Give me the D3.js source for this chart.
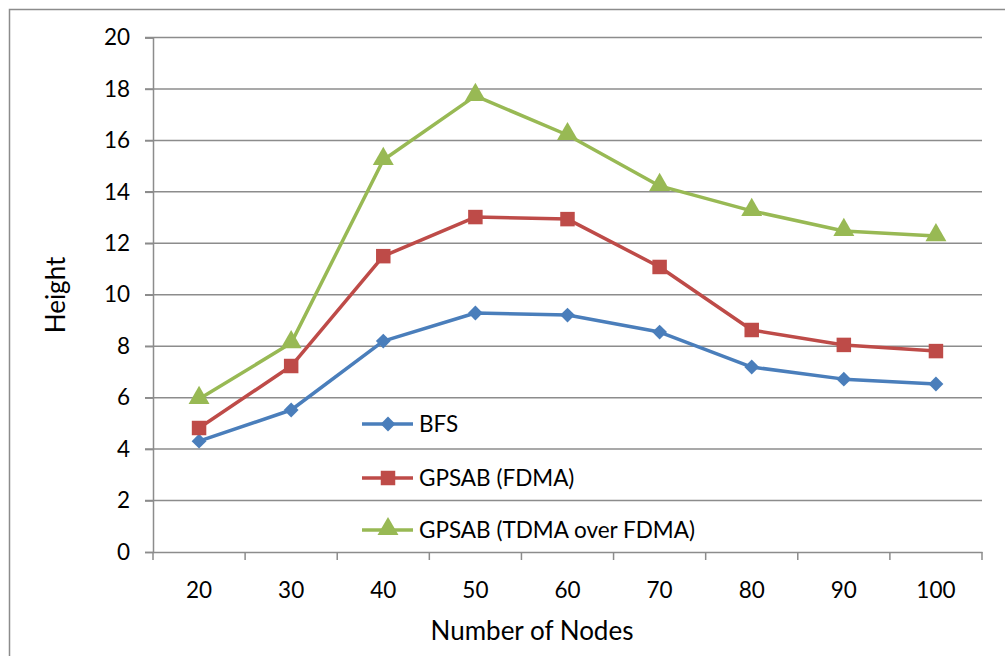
<!DOCTYPE html>
<html><head><meta charset="utf-8">
<script src="https://cdn.jsdelivr.net/npm/d3@7"></script>
<style>body{margin:0;background:#fff;}svg{display:block;font-family:Lato,"Open Sans",sans-serif;}</style>
</head><body>
<svg id="c" width="1005" height="656"></svg>
<script>
const categories = [20,30,40,50,60,70,80,90,100];
const bfs = [4.31,5.52,8.2,9.29,9.21,8.55,7.19,6.72,6.53];
const fdma = [4.82,7.23,11.5,13.02,12.94,11.08,8.63,8.05,7.81];
const tdma = [5.95,8.12,15.24,17.73,16.21,14.23,13.26,12.48,12.28];
const yTicks = [0,2,4,6,8,10,12,14,16,18,20];
const seriesNames = ["BFS","GPSAB (FDMA)","GPSAB (TDMA over FDMA)"];
const seriesColors = ["#4a7ebb","#be4b48","#98b954"];
const seriesShapes = [d3.symbolSquare,d3.symbolSquare,d3.symbolTriangle];
const seriesData = [bfs,fdma,tdma];

const svg = d3.select("#c");
const L=153,R=982,T=37.5,B=552;
svg.append("rect").attr("x",9.5).attr("y",9.5).attr("width",1100).attr("height",1000)
  .attr("fill","none").attr("stroke","#8c8c8c").attr("stroke-width",1.5);

const x = d3.scaleBand().domain(categories).range([L,R]).padding(0);
const y = d3.scaleLinear().domain([0,20]).range([B,T]);

svg.append("g").selectAll("line").data(yTicks.filter(d=>d>0)).join("line")
  .attr("x1",L-8).attr("x2",R).attr("y1",d=>y(d)).attr("y2",d=>y(d))
  .attr("stroke","#8c8c8c").attr("stroke-width",1.5);

const ya = svg.append("g").attr("transform",`translate(${L},0)`)
  .call(d3.axisLeft(y).tickValues(yTicks).tickSize(8).tickPadding(15));
ya.select(".domain").attr("stroke","#8c8c8c").attr("stroke-width",1.5);
ya.selectAll(".tick line").attr("stroke","#8c8c8c").attr("stroke-width",1.5);
ya.selectAll("text").attr("font-size",22.5).attr("fill","#000").attr("font-family","Lato");

const xa = svg.append("g").attr("transform",`translate(0,${B})`)
  .call(d3.axisBottom(x).tickSize(0).tickPadding(30));
xa.select(".domain").attr("stroke","#8c8c8c").attr("stroke-width",1.5);
xa.selectAll("text").attr("font-size",22.5).attr("fill","#000").attr("font-family","Lato");
svg.append("g").selectAll("line").data(d3.range(categories.length+1)).join("line")
  .attr("x1",i=>L+i*x.bandwidth()).attr("x2",i=>L+i*x.bandwidth())
  .attr("y1",B).attr("y2",B+8).attr("stroke","#8c8c8c").attr("stroke-width",1.5);

svg.append("text").attr("x",532).attr("y",640).attr("text-anchor","middle")
  .attr("font-size",26).text("Number of Nodes");
svg.append("text").attr("transform","translate(65,295) rotate(-90)").attr("text-anchor","middle")
  .attr("font-size",26).text("Height");

const sizes=[110,210,190];
const rot=[45,0,0];
const dy=[0,0,-1];
const line = d3.line().x((d,i)=>x(categories[i])+x.bandwidth()/2).y(d=>y(d));
seriesData.forEach((data,k)=>{
  svg.append("path").datum(data).attr("d",line).attr("fill","none")
    .attr("stroke",seriesColors[k]).attr("stroke-width",3.5).attr("stroke-linejoin","round");
  svg.append("g").selectAll("path").data(data).join("path")
    .attr("d",d3.symbol().type(seriesShapes[k]).size(sizes[k]))
    .attr("transform",(d,i)=>`translate(${x(categories[i])+x.bandwidth()/2},${y(d)+dy[k]}) rotate(${rot[k]})`)
    .attr("fill",seriesColors[k]);
});

const legY=[424,478,530];
seriesNames.forEach((n,k)=>{
  const g=svg.append("g").attr("transform",`translate(0,${legY[k]})`);
  g.append("line").attr("x1",362).attr("x2",413).attr("y1",0).attr("y2",0)
    .attr("stroke",seriesColors[k]).attr("stroke-width",3.5);
  g.append("path").attr("d",d3.symbol().type(seriesShapes[k]).size(sizes[k]))
    .attr("transform",`translate(388,${dy[k]}) rotate(${rot[k]})`).attr("fill",seriesColors[k]);
  g.append("text").attr("x",419).attr("y",8).attr("font-size",22.5).text(n);
});
</script>
</body></html>
